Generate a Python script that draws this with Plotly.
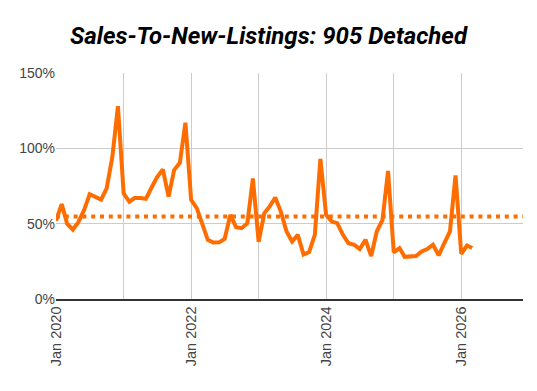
import plotly.graph_objects as go
import pandas as pd

months = pd.date_range("2020-01-01", "2026-03-01", freq="MS").strftime("%Y-%m-%d").tolist()
ratio = [
    52, 63, 50, 46, 51, 59, 69.5, 68, 66, 73.5, 94.5, 128,      # 2020
    70, 64.6, 67, 67, 66.5, 74, 81, 86, 68, 85.6, 90.5, 117,    # 2021
    65.8, 60.2, 50.3, 39.3, 37.5, 37.6, 39.9, 55.8, 47.7, 47, 50.3, 80,  # 2022
    38, 57, 61.3, 67.3, 58, 44.8, 38.2, 42.6, 29.5, 31.1, 42.6, 93,  # 2023
    55.8, 51.4, 50.3, 42.6, 37, 36, 33.1, 39.3, 28.5, 44.8, 52.5, 85,  # 2024
    31, 33.8, 28, 28.5, 28.5, 31.5, 33.1, 36, 29, 37, 44.8, 82,  # 2025
    30, 35.5, 33.8,                                              # 2026
]
average_level = 54.7
y_ticks = [0, 50, 100, 150]
y_tick_text = ["0%", "50%", "100%", "150%"]
x_tick_vals = ["2020-01-01", "2022-01-01", "2024-01-01", "2026-01-01"]
x_tick_text = ["Jan 2020", "Jan 2022", "Jan 2024", "Jan 2026"]

ORANGE = "#ff6d01"

fig = go.Figure()
fig.add_trace(go.Scatter(
    x=months, y=ratio, mode="lines",
    line=dict(color=ORANGE, width=4),
    hoverinfo="x+y", showlegend=False,
))
fig.add_shape(type="line", xref="paper", yref="y", x0=0, x1=1,
              y0=average_level, y1=average_level,
              line=dict(color=ORANGE, width=4, dash="4px,4.8px"))

fig.update_layout(
    width=537, height=391,
    margin=dict(l=56, r=14, t=73, b=92),
    paper_bgcolor="white", plot_bgcolor="white",
    title=dict(text="<b><i>Sales-To-New-Listings: 905 Detached</i></b>",
               x=0.5, xanchor="center", y=1 - 36 / 391, yanchor="middle",
               font=dict(family="Roboto", size=24, color="#000000")),
    font=dict(family="Liberation Sans, Arial", size=14, color="#444444"),
)
fig.update_xaxes(
    type="date", range=["2020-01-01", "2026-12-01"],
    tickvals=x_tick_vals, ticktext=x_tick_text, tickangle=-90,
    showgrid=True, gridcolor="#cccccc", gridwidth=1,
    minor=dict(tickvals=["2021-01-01", "2023-01-01", "2025-01-01"],
               showgrid=True, gridcolor="#cccccc", gridwidth=1),
    showline=True, linecolor="#333333", linewidth=1.5,
    ticks="", zeroline=False,
    tickfont=dict(size=14.5, color="#444444"),
)
fig.update_yaxes(
    range=[0, 150], tickvals=y_ticks, ticktext=y_tick_text,
    showgrid=True, gridcolor="#cccccc", gridwidth=1,
    zeroline=False, showline=False, ticks="",
    tickfont=dict(size=14, color="#444444"),
)
fig.write_html("out.html", config={"displayModeBar": False},
               post_script="document.body.style.margin='0px';")
